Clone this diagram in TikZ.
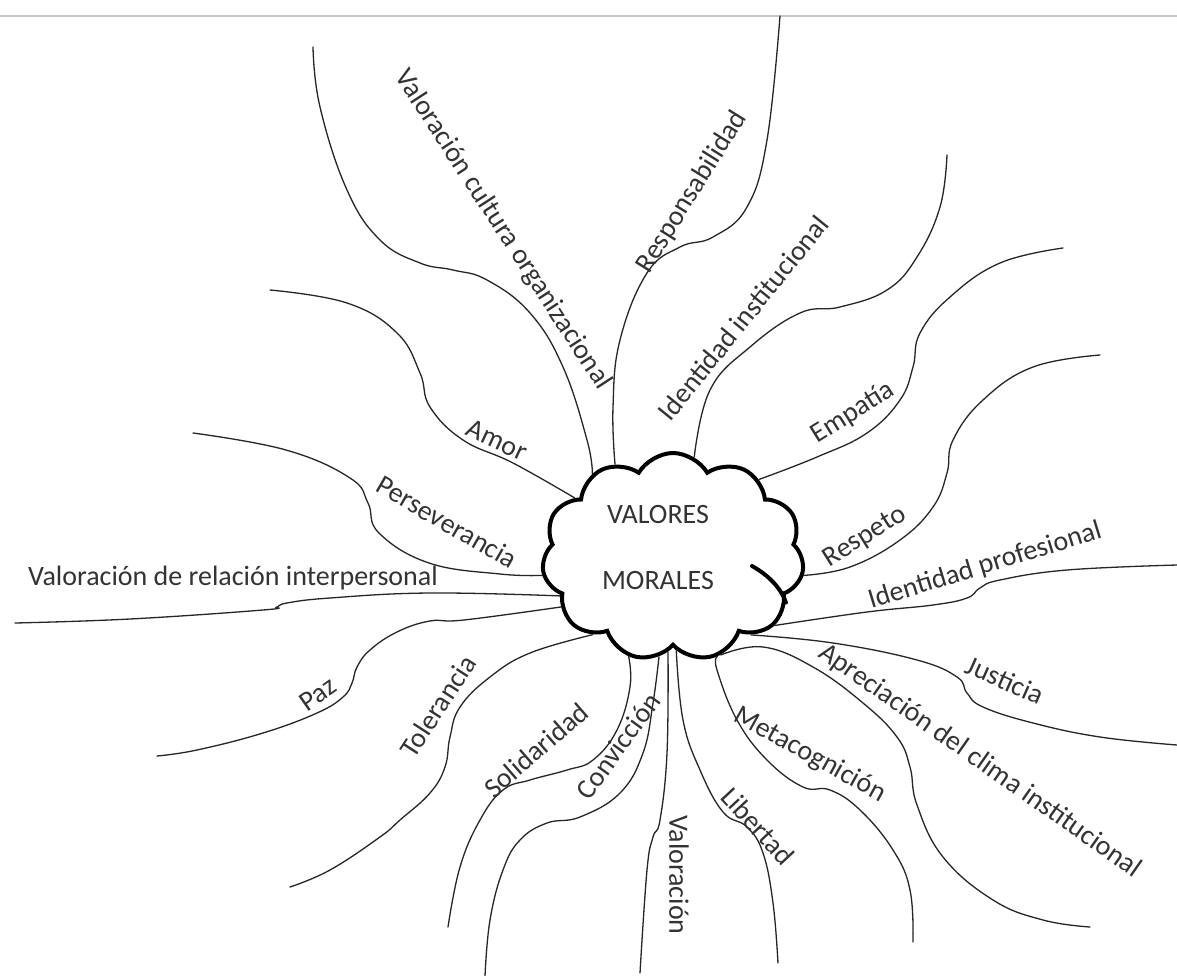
\documentclass[tikz,border=0pt]{standalone}
\usepackage{fontspec}
\setmainfont{Carlito}
\usepackage{xcolor}
\usepackage{tikz}
\usetikzlibrary{shapes.symbols, calc}
\colorlet{line-color}{black!85}
\colorlet{text-color}{black!80}
\colorlet{edge-color}{black!22}
\tikzset{
    value/.style = {font=\fontsize{28}{30}\selectfont, text=text-color, inner sep=0pt},
    branch/.style = {draw=line-color, line width=1.3pt, line cap=round},
    puffs/.style = {cloud, draw=black, line width=4pt, fill=white,
        cloud puffs=11, cloud puff arc=120, cloud ignores aspect,
        minimum width=262pt, minimum height=208pt, inner sep=0pt},
    hook/.style = {draw=black, line width=4pt, line cap=round},
}

\begin{document}
\begin{tikzpicture}[x=1pt, y=-1pt]
    \useasboundingbox (0,0) rectangle (1177,976);
    \fill[white] (0,0) rectangle (1177,976);
    \draw[edge-color, line width=1.5pt] (0,16) -- (1177,16);

    \node[puffs] (vm) at (673,557) {};
    \node[value, align=center] (vm-text) at (658,548) {VALORES\\[36pt]MORALES};

    % ramas hacia arriba
    \draw[branch] plot[smooth, tension=0.7] coordinates {(vm.134) (587,440) (563,367) (530,313) (487,280) (453,270) (420,263) (380,240) (347,190) (320,107) (313,47)};
    \draw[branch] plot[smooth, tension=0.7] coordinates {(vm.122) (613,407) (620,340) (647,273) (680,247) (713,237) (747,207) (767,140) (780,16)};
    \draw[branch] plot[smooth, tension=0.7] coordinates {(vm.78) (710,390) (750,347) (800,313) (840,307) (887,290) (917,257) (940,207) (947,155)};
    \draw[branch] plot[smooth, tension=0.7] coordinates {(vm.42) (817,457) (867,433) (900,400) (913,367) (920,333) (950,297) (1000,263) (1063,248)};
    \draw[branch] plot[smooth, tension=0.7] coordinates {(vm.149) (513,463) (463,440) (430,407) (420,373) (397,333) (347,303) (270,290)};

    % ramas a los lados
    \draw[branch] plot[smooth, tension=0.7] coordinates {(vm.-8) (850,567) (900,540) (933,507) (947,473) (953,440) (983,400) (1033,367) (1100,355)};
    \draw[branch] plot[smooth, tension=0.7] coordinates {(vm.-34) (867,612) (933,605) (967,598) (980,588) (1000,580) (1067,570) (1177,565)};
    \draw[branch] plot[smooth, tension=0.7] coordinates {(vm.-45) (833,643) (917,660) (957,677) (967,693) (983,707) (1033,723) (1100,737) (1177,745)};
    \draw[branch] plot[smooth, tension=0.7] coordinates {(vm.-172) (500,574) (429,563) (379,533) (368,503) (350,478) (286,450) (193,433)};
    \draw[branch] plot[smooth, tension=0.7] coordinates {(vm.-161) (430,593) (330,598) (287,603) (277,607) (263,610) (130,619) (15,623)};
    \draw[branch] plot[smooth, tension=0.7] coordinates {(vm.-156) (464,620) (430,621) (397,632) (370,650) (357,667) (352,683) (343,697) (317,713) (263,733) (197,750) (157,756)};

    % ramas hacia abajo
    \draw[branch] plot[smooth, tension=0.7] coordinates {(vm.-64) (763,647) (813,667) (863,703) (897,737) (910,767) (917,805) (943,857) (993,900) (1043,920) (1090,927)};
    \draw[branch] plot[smooth, tension=0.7] coordinates {(vm.-66) (717,670) (737,720) (767,760) (803,787) (830,790) (860,810) (893,850) (910,890) (913,942)};
    \draw[branch] plot[smooth, tension=0.7] coordinates {(vm.-88) (683,720) (700,770) (723,812) (747,827) (763,853) (773,903) (778,963)};
    \draw[branch] plot[smooth, tension=0.7] coordinates {(vm.-93) (667,753) (660,820) (653,837) (647,870) (640,973)};
    \draw[branch] plot[smooth, tension=0.7] coordinates {(vm.-98) (653,703) (643,753) (620,793) (580,817) (547,823) (520,840) (503,870) (490,920) (485,976)};
    \draw[branch] plot[smooth, tension=0.7] coordinates {(vm.-114) (630,687) (617,730) (593,760) (567,770) (530,780) (503,790) (480,820) (460,867) (448,927)};
    \draw[branch] plot[smooth, tension=0.7] coordinates {(vm.-136) (530,653) (490,677) (460,707) (450,737) (445,767) (430,793) (400,820) (380,837) (330,870) (290,887)};

    % trazo interior de la nube
    \draw[hook] (752,566) .. controls (770,576) and (782,590) .. (vm.-22);

    % etiquetas
    \node[value, rotate=-57] (cultura) at (503,230) {Valoración cultura organizacional};
    \node[value, rotate=58] (responsabilidad) at (692,192) {Responsabilidad};
    \node[value, rotate=51] (institucional) at (743,318) {Identidad institucional};
    \node[value, rotate=32] (empatia) at (853,413) {Empatía};
    \node[value, rotate=-25] (amor) at (497,440) {Amor};
    \node[value, rotate=32] (respeto) at (865,537) {Respeto};
    \node[value, rotate=17] (profesional) at (985,566) {Identidad profesional};
    \node[value, rotate=-24] (justicia) at (1005,680) {Justicia};
    \node[value, rotate=-30] (perseverancia) at (447,522) {Perseverancia};
    \node[value] (interpersonal) at (233,578) {Valoración de relación interpersonal};
    \node[value, rotate=35] (paz) at (318,694) {Paz};
    \node[value, rotate=-35] (clima) at (980,761) {Apreciación del clima institucional};
    \node[value, rotate=-29] (metacognicion) at (810,755) {Metacognición};
    \node[value, rotate=-47] (libertad) at (758,826) {Libertad};
    \node[value, rotate=-90] (valoracion) at (679,875) {Valoración};
    \node[value, rotate=54] (conviccion) at (618,746) {Convicción};
    \node[value, rotate=41] (solidaridad) at (536,750) {Solidaridad};
    \node[value, rotate=57] (tolerancia) at (438,706) {Tolerancia};
\end{tikzpicture}
\end{document}
